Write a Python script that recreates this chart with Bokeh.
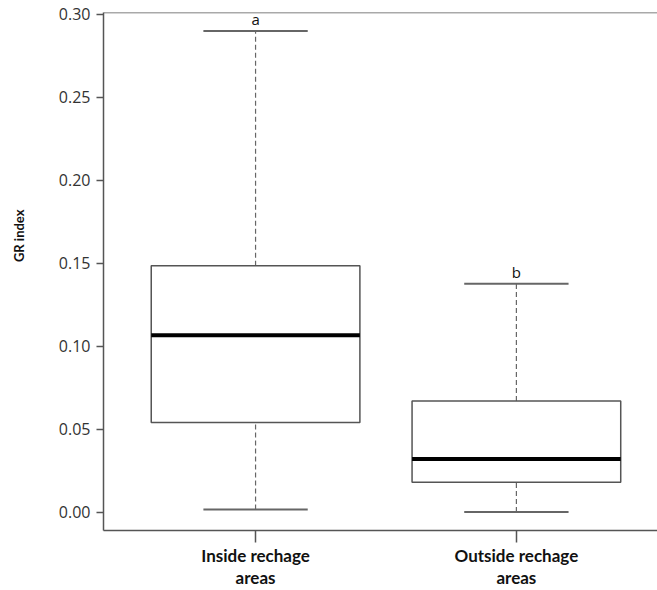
import math
from bokeh.plotting import figure
from bokeh.models import Range1d, FixedTicker, Span, Title, NumeralTickFormatter, ColumnDataSource
from bokeh.core.properties import value
from bokeh.embed import file_html
from bokeh.resources import INLINE

# ---- data ----
categories = ["Inside rechage\nareas", "Outside rechage\nareas"]
lower = [0.0016, 0.0000]
q1 = [0.054, 0.018]
median = [0.1066, 0.032]
q3 = [0.1484, 0.067]
upper = [0.2898, 0.1376]
letters = ["a", "b"]
y_ticks = [0.00, 0.05, 0.10, 0.15, 0.20, 0.25, 0.30]

xs = [i + 1 for i in range(len(categories))]
box_w = 0.8
cap_w = 0.4

src = ColumnDataSource(dict(
    x=xs, lower=lower, q1=q1, median=median, q3=q3, upper=upper, letter=letters,
    bx0=[x - box_w / 2 for x in xs], bx1=[x + box_w / 2 for x in xs],
    cx0=[x - cap_w / 2 for x in xs], cx1=[x + cap_w / 2 for x in xs],
))

p = figure(width=657, height=590, output_backend="svg", toolbar_location=None,
           x_range=Range1d(0.417, 2.541), y_range=Range1d(-0.0111, 0.3010),
           min_border_left=103, min_border_right=0, min_border_top=12, min_border_bottom=60)
p.grid.visible = False
p.outline_line_color = None
p.background_fill_color = "white"

axis_col = "#555555"

# Y axis
ya = p.yaxis[0]
ya.ticker = FixedTicker(ticks=y_ticks)
ya.formatter = NumeralTickFormatter(format="0.00")
ya.axis_line_color = axis_col
ya.axis_line_width = 1.5
ya.major_tick_line_color = axis_col
ya.major_tick_line_width = 1.5
ya.major_tick_out = 7
ya.major_tick_in = 0
ya.minor_tick_line_color = None
ya.major_label_standoff = 6
ya.major_label_text_font = "Open Sans"
ya.major_label_text_font_size = "16px"
ya.major_label_text_color = "#333333"
# blank spacer label to push the title further out
ya.axis_label = " "
ya.axis_label_text_font_size = "10px"
ya.axis_label_standoff = 15

# X axis
xa = p.xaxis[0]
xa.ticker = FixedTicker(ticks=xs)
xa.major_label_overrides = {x: c for x, c in zip(xs, categories)}
xa.axis_line_color = axis_col
xa.axis_line_width = 1.5
xa.major_tick_line_color = axis_col
xa.major_tick_line_width = 1.5
xa.major_tick_out = 12
xa.major_tick_in = 0
xa.minor_tick_line_color = None
xa.major_label_standoff = 2
xa.major_label_text_font = "Lato"
xa.major_label_text_font_style = "bold"
xa.major_label_text_font_size = "17px"
xa.major_label_text_color = "#111111"
xa.major_label_text_line_height = 1.05

# top border
p.add_layout(Span(location=0.3010, dimension="width", line_color=axis_col, line_width=1.5))

# whiskers
p.segment(x0="x", y0="q3", x1="x", y1="upper", source=src, line_color="#666666",
          line_width=1.2, line_dash="5 3")
p.segment(x0="x", y0="lower", x1="x", y1="q1", source=src, line_color="#666666",
          line_width=1.2, line_dash="5 3")
# caps
p.segment(x0="cx0", y0="upper", x1="cx1", y1="upper", source=src, line_color="#666666", line_width=2)
p.segment(x0="cx0", y0="lower", x1="cx1", y1="lower", source=src, line_color="#666666", line_width=2)
# boxes
p.vbar(x="x", width=box_w, bottom="q1", top="q3", source=src, fill_color="white",
       line_color="#555555", line_width=1.5)
# medians
p.segment(x0="bx0", y0="median", x1="bx1", y1="median", source=src, line_color="black", line_width=4)

# significance letters
p.text(x="x", y="upper", text="letter", source=src, text_align="center", text_baseline="bottom",
       y_offset=-2, text_font=value("Open Sans"), text_font_size="15px", text_color="#111111")

# y-axis title
ytitle = Title(text="GR index", align="right", offset=197, standoff=0,
               text_font="Lato", text_font_style="bold", text_font_size="13px",
               text_color="#111111")
p.add_layout(ytitle, "left")

open("out.html", "w").write(file_html(p, INLINE))
